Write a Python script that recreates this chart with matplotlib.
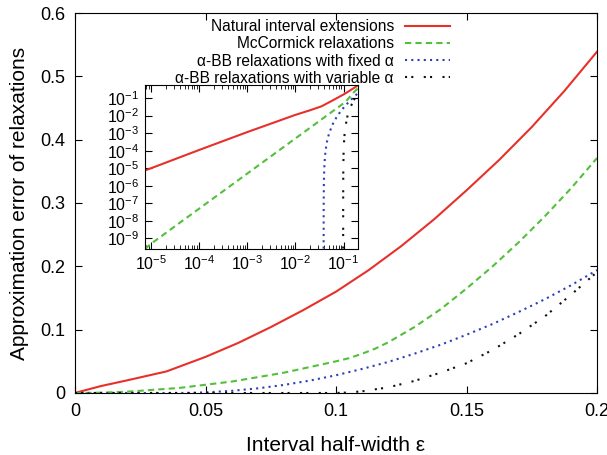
import numpy as np
import matplotlib.pyplot as plt
from matplotlib.ticker import FixedLocator, LogLocator, NullFormatter

plt.rcParams['font.family'] = ['Liberation Sans', 'DejaVu Sans']
plt.rcParams['mathtext.fontset'] = 'custom'
plt.rcParams['mathtext.rm'] = 'Liberation Sans'
plt.rcParams['mathtext.it'] = 'Liberation Sans'

# Values (x = interval half-width)
red_x = [7.5e-6, 1e-5, 1e-4, 1e-3, 1e-2, 0.02, 0.035, 0.05, 0.0625, 0.075,
         0.0875, 0.1, 0.1125, 0.125, 0.1375, 0.15, 0.1625, 0.175, 0.1875, 0.2]
red_y = [7.5e-6, 1e-5, 1.1e-4, 1.15e-3, 1.1e-2, 0.02, 0.034, 0.057, 0.079,
         0.104, 0.131, 0.16, 0.194, 0.232, 0.274, 0.32, 0.368, 0.42, 0.477,
         0.539]

green_x = [7.5e-6, 1e-5, 1e-4, 1e-3, 1e-2, 0.02, 0.04, 0.06, 0.08, 0.1,
           0.105, 0.11, 0.115, 0.12, 0.13, 0.14, 0.15, 0.16, 0.17, 0.18,
           0.19, 0.2]
green_y = [2.5e-10, 5e-10, 5e-8, 5e-6, 5e-4, 0.002, 0.008, 0.018, 0.032,
           0.05, 0.055, 0.062, 0.07, 0.08, 0.104, 0.132, 0.165, 0.2, 0.238,
           0.279, 0.323, 0.371]

blue_x = [0.0, 0.0385, 0.0386, 0.039, 0.04, 0.042, 0.045, 0.05, 0.06, 0.07,
          0.08, 0.09, 0.1, 0.11, 0.12, 0.13, 0.14, 0.15, 0.16, 0.17, 0.18,
          0.19, 0.2]
blue_y = [0.0, 1e-11, 7.4e-8, 1.85e-6, 1.7e-5, 9e-5, 3.1e-4, 9.8e-4, 3.4e-3,
          7.3e-3, 0.0127, 0.0196, 0.028, 0.038, 0.049, 0.062, 0.076, 0.092,
          0.109, 0.128, 0.148, 0.17, 0.194]

black_x = [0.0, 0.098, 0.0981, 0.0985, 0.099, 0.1, 0.102, 0.105, 0.11, 0.12,
           0.13, 0.14, 0.15, 0.16, 0.17, 0.18, 0.19, 0.2]
black_y = [0.0, 1e-11, 1.8e-7, 4.6e-6, 1.5e-5, 7.4e-5, 2.9e-4, 9e-4, 2.6e-3,
           8.9e-3, 0.019, 0.032, 0.047, 0.068, 0.093, 0.121, 0.155, 0.191]

labels = ["Natural interval extensions", "McCormick relaxations",
          "α-BB relaxations with fixed α", "α-BB relaxations with variable α"]

inset_xticks = [1e-5, 1e-4, 1e-3, 1e-2, 1e-1]
inset_xlabels = ["$10^{-5}$", "$10^{-4}$", "$10^{-3}$", "$10^{-2}$", "$10^{-1}$"]
inset_yticks = [1e-9, 1e-8, 1e-7, 1e-6, 1e-5, 1e-4, 1e-3, 1e-2, 1e-1]
inset_ylabels = ["$10^{-%d}$" % k for k in range(9, 0, -1)]

series = [
    (red_x, red_y, dict(color="#e8302a", lw=1.5, ls="-")),
    (green_x, green_y, dict(color="#52c03a", lw=1.5, ls=(0, (3, 2)))),
    (blue_x, blue_y, dict(color="#2c3fb8", lw=1.5, ls=(0, (1, 2)))),
    (black_x, black_y, dict(color="#111111", lw=1.5, ls=(0, (1, 2, 1, 5)))),
]

fig = plt.figure(figsize=(6.07, 4.55), dpi=100)
ax = fig.add_axes([0.1236, 0.1363, 0.86, 0.8351])

for (x, y, st), lab in zip(series, labels):
    ax.plot(x, y, label=lab, **st)

ax.set_xlim(0, 0.2)
ax.set_ylim(0, 0.6)
ax.set_xticks([0, 0.05, 0.1, 0.15, 0.2])
ax.set_xticklabels(["0", "0.05", "0.1", "0.15", "0.2"])
ax.set_yticks([0, 0.1, 0.2, 0.3, 0.4, 0.5, 0.6])
ax.set_yticklabels(["0", "0.1", "0.2", "0.3", "0.4", "0.5", "0.6"])
ax.tick_params(direction="in", top=True, right=True, labelsize=13,
               length=5, pad=7)
ax.set_xlabel("Interval half-width ε", fontsize=15, labelpad=12)
ax.set_ylabel("Approximation error of relaxations", fontsize=15, labelpad=8)

leg = ax.legend(loc="upper right", bbox_to_anchor=(0.73, 1.0),
                frameon=False, markerfirst=False, fontsize=11.2,
                handlelength=2.9, handletextpad=0.7, labelspacing=0.14,
                borderaxespad=0.0)
for t in leg.get_texts():
    t.set_ha("right")

# Inset with log-log axes
ins = fig.add_axes([0.2389, 0.4527, 0.351, 0.3604])
for x, y, st in series:
    x = np.array(x)
    y = np.array(y)
    m = (x > 0) & (y > 0)
    ins.plot(x[m], y[m], **st)
ins.set_xscale("log")
ins.set_yscale("log")
ins.set_xlim(7.5e-6, 0.2)
ins.set_ylim(2.5e-10, 0.55)
ins.xaxis.set_major_locator(FixedLocator(inset_xticks))
ins.set_xticklabels(inset_xlabels)
ins.xaxis.set_minor_locator(LogLocator(base=10, subs=np.arange(2, 10), numticks=20))
ins.xaxis.set_minor_formatter(NullFormatter())
ins.yaxis.set_major_locator(FixedLocator(inset_yticks))
ins.set_yticklabels(inset_ylabels)
ins.yaxis.set_minor_locator(FixedLocator([]))
ins.tick_params(which="both", direction="in", top=True, right=True,
                labelsize=11.5, pad=4)
ins.tick_params(which="major", length=5)
ins.tick_params(which="minor", length=3)

fig.savefig("out.png", dpi=100)
